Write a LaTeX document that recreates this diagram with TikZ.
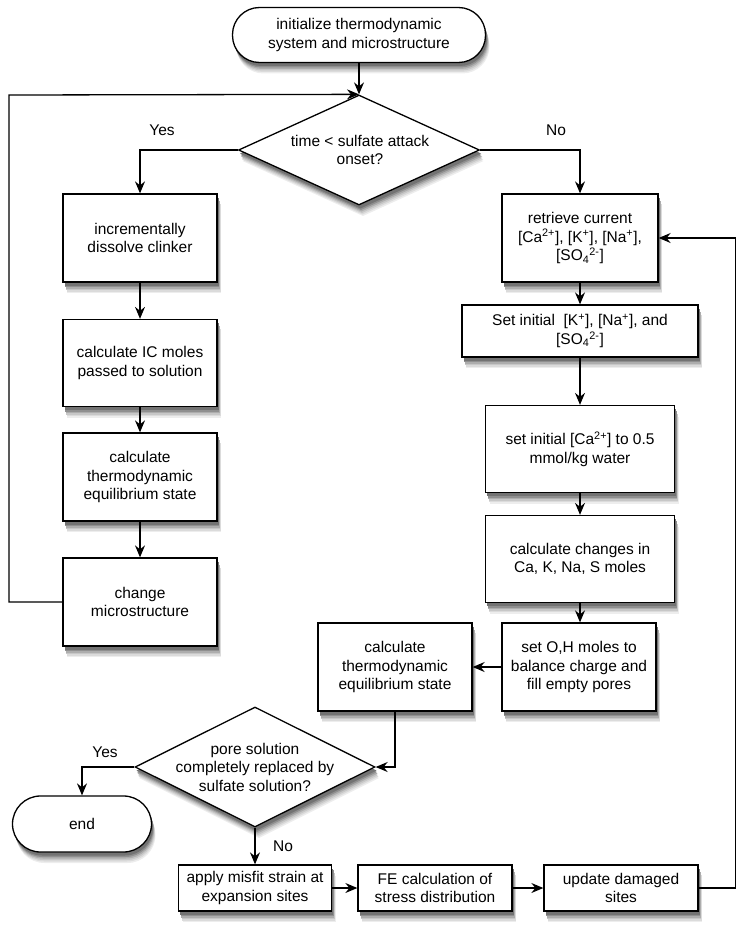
\documentclass[tikz,border=0pt]{standalone}
\usepackage{fontspec}
\setmainfont{Liberation Sans}
\usetikzlibrary{arrows.meta,shapes.geometric}
\definecolor{sh1}{gray}{0.93}
\definecolor{sh2}{gray}{0.86}
\definecolor{sh3}{gray}{0.78}
\definecolor{sh4}{gray}{0.68}
\definecolor{sh5}{gray}{0.56}
\definecolor{sh6}{gray}{0.45}
\newcommand\shlayers{4/11/sh1,3.5/9.5/sh2,3/8/sh3,2.5/6.5/sh4,2/5/sh5,1.5/3.5/sh6}
\newcommand\bx[7]{%
  \foreach \dx/\dy/\cc in \shlayers {%
    \path[fill=\cc,rounded corners=#6] ({#2-#4/2+\dx},{#3-#5/2+\dy}) rectangle ({#2+#4/2+\dx},{#3+#5/2+\dy});}%
  \node[box,rounded corners=#6,minimum width=#4pt,minimum height=#5pt] (#1) at (#2,#3) {#7};}
\newcommand\dm[5]{%
  \foreach \dx/\dy/\cc in \shlayers {%
    \path[fill=\cc] ({#2+\dx},{#3-#5/2+\dy}) -- ({#2+#4/2+\dx},{#3+\dy}) -- ({#2+\dx},{#3+#5/2+\dy}) -- ({#2-#4/2+\dx},{#3+\dy}) -- cycle;}%
  \node[dia,minimum width=#4pt,minimum height=#5pt] (#1) at (#2,#3) {};}
\begin{document}
\begin{tikzpicture}[x=1pt,y=-1pt,
  font=\fontsize{15.5}{18.5}\selectfont,
  box/.style={draw,line width=1.3pt,fill=white,align=center,inner sep=2pt},
  dia/.style={draw,line width=1.3pt,fill=white,diamond,inner sep=0pt},
  lbl/.style={align=center,inner sep=0pt},
  arr/.style={line width=1.3pt,-{Stealth[length=12pt,width=10pt,inset=4pt]}}]
\useasboundingbox (0,0) rectangle (737,931);
% nodes
\bx{start}{359}{35}{253}{55}{27pt}{initialize thermodynamic\\system and microstructure}
\dm{d1}{359}{150}{241}{110}
\node[lbl] (d1t) at (360,150) {time {\textless} sulfate attack\\onset?};
\bx{L1}{140}{238}{154}{88}{0pt}{incrementally\\dissolve clinker}
\bx{L2}{140}{363}{154}{87}{0pt}{calculate IC moles\\passed to solution}
\bx{L3}{140}{477}{154}{88}{0pt}{calculate\\thermodynamic\\equilibrium state}
\bx{L4}{140}{602}{154}{88}{0pt}{change\\microstructure}
\bx{R1}{580}{238}{156}{88}{0pt}{retrieve current\\{}[Ca\textsuperscript{2+}], [K\textsuperscript{+}], [Na\textsuperscript{+}],\\{}[SO\textsubscript{4}\textsuperscript{2-}]}
\bx{R2}{580}{331}{236}{52}{0pt}{Set initial\ \ [K\textsuperscript{+}], [Na\textsuperscript{+}], and\\{}[SO\textsubscript{4}\textsuperscript{2-}]}
\bx{R3}{580}{449}{189}{87}{0pt}{set initial [Ca\textsuperscript{2+}] to 0.5\\mmol/kg water}
\bx{R4}{580}{559}{189}{87}{0pt}{calculate changes in\\Ca, K, Na, S moles}
\bx{R5}{579}{667}{154}{88}{0pt}{set O,H moles to\\balance charge and\\fill empty pores}
\bx{M}{395}{667}{154}{88}{0pt}{calculate\\thermodynamic\\equilibrium state}
\dm{d2}{255}{767}{240}{120}
\node[lbl] (d2t) at (255,767) {pore solution\\completely replaced by\\sulfate solution?};
\bx{end}{82}{824}{139}{56}{28pt}{end}
\bx{B1}{255}{888}{153}{46}{0pt}{apply misfit strain at\\expansion sites}
\bx{B2}{435}{888}{154}{46}{0pt}{FE calculation of\\stress distribution}
\bx{B3}{621}{888}{154}{46}{0pt}{update damaged\\sites}
% labels
\node[lbl] (y1) at (162,130) {Yes};
\node[lbl] (n1) at (556,130) {No};
\node[lbl] (y2) at (105,752) {Yes};
\node[lbl] (n2) at (283,846) {No};
% helper coordinates
\coordinate (lp) at (9,95);
\coordinate (rp) at (735.5,238);
% connectors
\draw[arr] (start.south) -- (d1.north);
\draw[arr] (L4.west) -| (lp) -- (d1.north);
\draw[arr] (d1.west) -| (L1.north);
\draw[arr] (d1.east) -| (R1.north);
\draw[arr] (L1) -- (L2);
\draw[arr] (L2) -- (L3);
\draw[arr] (L3) -- (L4);
\draw[arr] (R1) -- (R2);
\draw[arr] (R2) -- (R3);
\draw[arr] (R3) -- (R4);
\draw[arr] (R4.south) -- (R4.south |- R5.north);
\draw[arr] (R5) -- (M);
\draw[arr] (M.south) |- (d2.east);
\draw[arr] (d2.west) -| (end.north);
\draw[arr] (d2.south) -- (B1.north);
\draw[arr] (B1) -- (B2);
\draw[arr] (B2) -- (B3);
\draw[arr] (B3.east) -| (rp) -- (R1.east);
\end{tikzpicture}
\end{document}
